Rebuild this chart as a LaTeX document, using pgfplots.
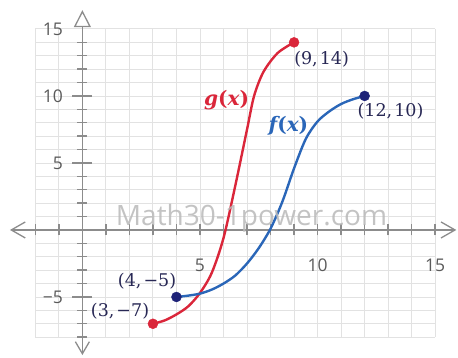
\documentclass[border=0pt]{standalone}
\usepackage{pgfplots}
\pgfplotsset{compat=1.18}
\usepackage{fontspec}
\setmainfont{Open Sans}
\newfontfamily\labelfont{DejaVu Serif}
\usetikzlibrary{arrows.meta}
\definecolor{gridc}{RGB}{226,226,226}
\definecolor{axisc}{RGB}{140,140,140}
\definecolor{tickc}{RGB}{90,90,90}
\definecolor{gred}{RGB}{218,38,58}
\definecolor{fblue}{RGB}{42,102,184}
\definecolor{dotblue}{RGB}{30,35,120}
\definecolor{ptlab}{RGB}{40,40,85}
\definecolor{wm}{RGB}{185,185,185}
\begin{document}
\begin{tikzpicture}
\begin{axis}[
  set layers,
  scale only axis,
  width=399.8pt, height=308.2pt,
  xmin=-2, xmax=15, ymin=-8, ymax=15,
  axis lines=middle,
  clip=false,
  xtick={-2,...,15}, ytick={-8,...,15},
  axis line style={draw=none},
  xticklabels={,,,,,,,5,,,,,10,,,,,15},
  yticklabels={,,,−5,,,,,,,,,,5,,,,,10,,,,,15},
  grid=major,
  major grid style={gridc, line width=0.9pt},
  major tick length=0pt,
  xticklabel style={anchor=center, inner sep=0pt, yshift=-35pt, text=tickc, font=\fontsize{17.5}{17.5}\selectfont},
  yticklabel style={anchor=east, inner sep=0pt, xshift=-19.4pt, text=tickc, font=\fontsize{17.5}{17.5}\selectfont},
  /pgf/number format/assume math mode=true,
]
\path (axis cs:-3.503,-9.55) rectangle (axis cs:15.97,17.16);
\draw[axisc, line width=1.3pt, {Straight Barb[length=14pt,width=16pt]}-{Straight Barb[length=14pt,width=16pt]}] (axis cs:-3.08,0) -- (axis cs:15.9,0);
\draw[axisc, line width=1.3pt, {Straight Barb[length=12pt,width=14pt]}-{Triangle[open,length=17pt,width=17pt]}] (axis cs:0,-9.33) -- (axis cs:0,16.4);
\pgfplotsinvokeforeach{-2,-1,1,2,3,4,5,6,7,8,9,10,11,12,13,14,15}{
  \draw[axisc, line width=1.4pt] ([yshift=-5.5pt]axis cs:#1,0) -- ([yshift=5.5pt]axis cs:#1,0);
}
\pgfplotsinvokeforeach{-8,-7,-6,-4,-3,-2,-1,1,2,3,4,6,7,8,9,11,12,13,14}{
  \draw[axisc, line width=1.4pt] ([xshift=-5pt]axis cs:0,#1) -- ([xshift=5pt]axis cs:0,#1);
}
\pgfplotsinvokeforeach{-5,5,10}{
  \draw[axisc, line width=1.4pt] ([xshift=-10pt]axis cs:0,#1) -- ([xshift=10pt]axis cs:0,#1);
}
\addplot[gred, line width=2.4pt, smooth] coordinates {
 (3,-7) (3.5,-6.75) (4,-6.3) (4.5,-5.7) (5,-4.7) (5.5,-3.2) (6,-0.6) (6.5,3.3) (7,7.5) (7.3,10) (7.7,11.8) (8.3,13.2) (9,14)};
\addplot[fblue, line width=2.4pt, smooth] coordinates {
 (4,-5) (4.5,-4.9) (5,-4.75) (5.5,-4.45) (6,-4.0) (6.5,-3.4) (7,-2.5) (7.5,-1.35) (8,0.1) (8.5,2.1) (9,4.6) (9.5,6.8) (10,8.1) (10.5,8.85) (11,9.4) (11.5,9.75) (12,10)};
\addplot[only marks, mark=*, mark size=5pt, gred] coordinates {(3,-7) (9,14)};
\addplot[only marks, mark=*, mark size=5pt, dotblue] coordinates {(4,-5) (12,10)};
\node[wm, opacity=0.85, font=\fontsize{28}{28}\selectfont, anchor=base] at (axis cs:7.19,0.3) {Math30-1power.com};
\node[ptlab, font=\labelfont\fontsize{17.5}{17.5}\selectfont] at (axis cs:10.17,12.76) {(9,\kern2pt14)};
\node[ptlab, font=\labelfont\fontsize{17.5}{17.5}\selectfont] at (axis cs:13.10,8.84) {(12,\kern2pt10)};
\node[ptlab, font=\labelfont\fontsize{17.5}{17.5}\selectfont] at (axis cs:2.75,-3.84) {(4,\kern2pt−5)};
\node[ptlab, font=\labelfont\fontsize{17.5}{17.5}\selectfont] at (axis cs:1.60,-6.08) {(3,\kern2pt−7)};
\node[gred, font=\labelfont\bfseries\fontsize{20}{20}\selectfont] at (axis cs:6.13,9.70) {{\itshape g}({\itshape x})};
\node[fblue, font=\labelfont\bfseries\fontsize{20}{20}\selectfont] at (axis cs:8.76,7.76) {{\itshape f}({\itshape x})};
\end{axis}
\end{tikzpicture}
\end{document}
